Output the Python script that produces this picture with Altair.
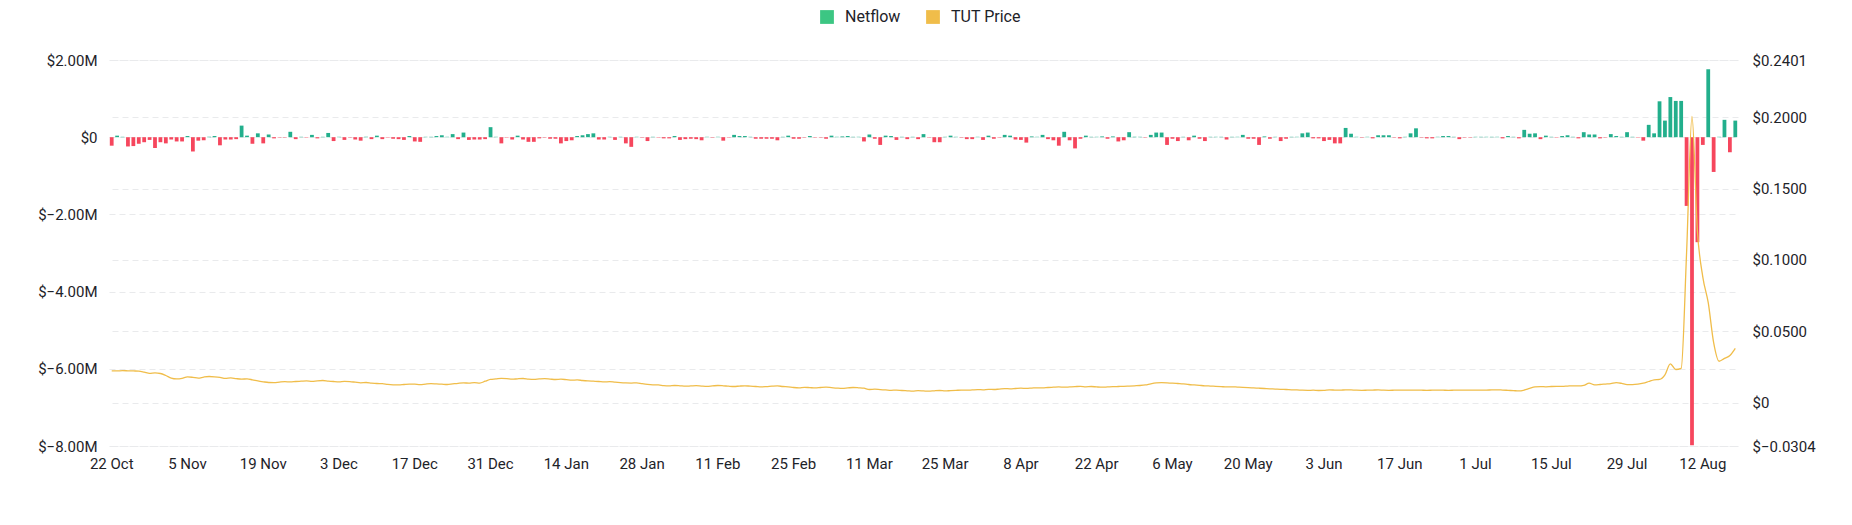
import altair as alt
import pandas as pd

START = "2024-10-22"
N_DAYS = 301

netflow_m = [
    -0.22, 0.04, 0.01, -0.24, -0.23, -0.17, -0.13, -0.07, -0.28, -0.13,
    -0.16, -0.06, -0.11, -0.11, 0.03, -0.37, -0.09, -0.08, 0.01, 0.03,
    -0.21, -0.06, -0.06, -0.05, 0.30, 0.04, -0.17, 0.10, -0.16, 0.07,
    -0.03, -0.01, -0.01, 0.14, -0.05, 0.01, -0.01, 0.06, -0.03, 0.01,
    0.11, -0.10, 0.01, -0.07, -0.01, -0.06, -0.09, 0.01, -0.05, 0.04,
    -0.05, -0.01, -0.04, -0.05, -0.07, 0.03, -0.11, -0.12, 0.01, 0.01,
    0.03, 0.05, 0.01, 0.08, -0.05, 0.12, -0.07, -0.06, -0.06, -0.05,
    0.26, 0.01, -0.16, -0.01, -0.06, 0.04, -0.06, -0.12, -0.12, -0.03,
    -0.01, -0.04, -0.04, -0.16, -0.10, -0.08, 0.03, 0.05, 0.08, 0.10,
    -0.06, -0.06, 0.01, -0.07, 0.01, -0.16, -0.25, 0.01, -0.01, -0.10,
    0.01, -0.01, -0.03, -0.03, 0.03, -0.07, -0.05, -0.04, -0.05, -0.08,
    0.01, -0.01, 0.01, -0.09, -0.01, 0.06, 0.03, 0.03, 0.01, -0.04,
    -0.04, -0.04, -0.04, -0.08, 0.01, 0.04, -0.04, -0.04, -0.01, 0.03,
    -0.01, -0.01, -0.04, 0.04, 0.01, 0.02, 0.03, 0.01, 0.01, -0.11,
    0.07, -0.04, -0.20, 0.04, 0.03, -0.07, 0.01, -0.05, 0.01, -0.05,
    0.08, -0.01, -0.13, -0.13, 0.01, 0.04, 0.01, -0.01, -0.05, -0.05,
    0.01, -0.07, 0.04, -0.04, -0.01, 0.06, 0.04, -0.06, -0.07, -0.14,
    0.02, 0.01, 0.06, -0.05, -0.08, -0.22, 0.14, -0.08, -0.29, -0.04,
    0.04, 0.01, 0.01, 0.02, -0.04, 0.02, -0.11, -0.08, 0.13, 0.01,
    0.01, -0.01, 0.06, 0.12, 0.12, -0.20, -0.04, -0.10, 0.01, -0.08,
    0.04, -0.04, -0.10, 0.01, 0.01, 0.01, -0.06, 0.01, 0.01, 0.06,
    -0.04, -0.04, -0.20, 0.02, -0.04, 0.01, -0.10, -0.04, 0.01, 0.01,
    0.10, 0.12, -0.03, -0.03, -0.10, -0.07, -0.16, -0.16, 0.24, 0.09,
    0.01, -0.01, 0.01, -0.03, 0.05, 0.05, 0.05, -0.01, -0.03, 0.01,
    0.10, 0.23, -0.01, -0.03, -0.03, 0.01, 0.03, 0.03, 0.01, -0.05,
    -0.01, -0.01, 0.01, 0.01, 0.01, 0.01, 0.01, -0.03, 0.03, 0.01,
    -0.03, 0.19, 0.09, 0.10, -0.05, 0.04, 0.01, -0.01, 0.03, 0.05,
    0.01, -0.03, 0.13, 0.07, 0.07, -0.03, -0.01, 0.08, 0.03, 0.01,
    0.13, 0.01, -0.01, -0.09, 0.32, 0.10, 0.93, 0.43, 1.04, 0.94,
    0.94, -1.78, -7.98, -2.72, -0.20, 1.76, -0.90, 0.01, 0.45, -0.39,
    0.43,
]

price = [
    0.0223, 0.0222, 0.0224, 0.0223, 0.0222, 0.0221, 0.0214, 0.0205, 0.0208, 0.0204,
    0.0190, 0.0172, 0.0166, 0.0170, 0.0180, 0.0177, 0.0172, 0.0179, 0.0183, 0.0181,
    0.0177, 0.0170, 0.0173, 0.0168, 0.0165, 0.0166, 0.0160, 0.0152, 0.0146, 0.0141,
    0.0140, 0.0144, 0.0147, 0.0145, 0.0148, 0.0150, 0.0152, 0.0149, 0.0153, 0.0155,
    0.0151, 0.0148, 0.0146, 0.0149, 0.0147, 0.0143, 0.0139, 0.0141, 0.0137, 0.0134,
    0.0133, 0.0128, 0.0125, 0.0124, 0.0127, 0.0130, 0.0129, 0.0126, 0.0130, 0.0133,
    0.0131, 0.0129, 0.0127, 0.0131, 0.0135, 0.0138, 0.0137, 0.0140, 0.0137, 0.0150,
    0.0163, 0.0166, 0.0170, 0.0168, 0.0164, 0.0167, 0.0169, 0.0165, 0.0163, 0.0166,
    0.0168, 0.0165, 0.0162, 0.0164, 0.0161, 0.0157, 0.0159, 0.0155, 0.0152, 0.0150,
    0.0148, 0.0145, 0.0147, 0.0143, 0.0140, 0.0138, 0.0137, 0.0139, 0.0133, 0.0128,
    0.0125, 0.0124, 0.0119, 0.0117, 0.0120, 0.0118, 0.0115, 0.0117, 0.0119, 0.0116,
    0.0114, 0.0117, 0.0120, 0.0118, 0.0115, 0.0113, 0.0116, 0.0118, 0.0115, 0.0113,
    0.0110, 0.0112, 0.0115, 0.0117, 0.0113, 0.0110, 0.0106, 0.0104, 0.0107, 0.0105,
    0.0103, 0.0106, 0.0108, 0.0105, 0.0102, 0.0100, 0.0103, 0.0106, 0.0104, 0.0101,
    0.0092, 0.0094, 0.0091, 0.0089, 0.0086, 0.0088, 0.0085, 0.0083, 0.0081, 0.0084,
    0.0082, 0.0080, 0.0083, 0.0085, 0.0082, 0.0084, 0.0086, 0.0088, 0.0087, 0.0089,
    0.0091, 0.0090, 0.0093, 0.0092, 0.0095, 0.0098, 0.0097, 0.0099, 0.0101, 0.0100,
    0.0102, 0.0104, 0.0103, 0.0106, 0.0108, 0.0110, 0.0108, 0.0110, 0.0112, 0.0114,
    0.0111, 0.0113, 0.0110, 0.0108, 0.0110, 0.0112, 0.0113, 0.0114, 0.0116, 0.0118,
    0.0120, 0.0124, 0.0132, 0.0138, 0.0140, 0.0139, 0.0137, 0.0134, 0.0131, 0.0127,
    0.0124, 0.0121, 0.0118, 0.0116, 0.0114, 0.0112, 0.0110, 0.0111, 0.0109, 0.0107,
    0.0105, 0.0103, 0.0101, 0.0099, 0.0097, 0.0095, 0.0093, 0.0092, 0.0090, 0.0089,
    0.0087, 0.0086, 0.0087, 0.0085, 0.0086, 0.0089, 0.0088, 0.0087, 0.0090, 0.0089,
    0.0087, 0.0086, 0.0087, 0.0088, 0.0089, 0.0087, 0.0086, 0.0087, 0.0088, 0.0087,
    0.0087, 0.0088, 0.0087, 0.0086, 0.0087, 0.0088, 0.0087, 0.0086, 0.0087, 0.0088,
    0.0087, 0.0087, 0.0088, 0.0087, 0.0088, 0.0089, 0.0090, 0.0088, 0.0086, 0.0084,
    0.0082, 0.0088, 0.0100, 0.0110, 0.0112, 0.0111, 0.0113, 0.0114, 0.0114, 0.0116,
    0.0118, 0.0117, 0.0121, 0.0136, 0.0125, 0.0127, 0.0130, 0.0133, 0.0140, 0.0135,
    0.0126, 0.0126, 0.0129, 0.0136, 0.0148, 0.0160, 0.0163, 0.0195, 0.0272, 0.0232,
    0.0240, 0.1050, 0.2005, 0.1200, 0.0880, 0.0700, 0.0420, 0.0290, 0.0310, 0.0330,
    0.0380,
]

tick_labels = ["22 Oct", "5 Nov", "19 Nov", "3 Dec", "17 Dec", "31 Dec", "14 Jan",
               "28 Jan", "11 Feb", "25 Feb", "11 Mar", "25 Mar", "8 Apr", "22 Apr",
               "6 May", "20 May", "3 Jun", "17 Jun", "1 Jul", "15 Jul", "29 Jul", "12 Aug"]
left_ticks = [2.0, 0.0, -2.0, -4.0, -6.0, -8.0]
right_ticks = [0.2401, 0.2, 0.15, 0.1, 0.05, 0.0, -0.0304]
series_names = ["Netflow", "TUT Price"]

GREEN = "#22AF8C"
RED = "#F6465D"
LEGEND_GREEN = "#3CC683"
YELLOW = "#F0BD4A"
FONT = "Roboto"
TEXT = "#1E2329"
GRID = "#E9EAEC"

NO_VIEW = alt.ViewBackground(stroke="transparent", strokeWidth=0)

dates = pd.date_range(START, periods=N_DAYS, freq="D")
days = [f"{d.day} {d.strftime('%b')}" for d in dates]
df = pd.DataFrame({"day": days, "netflow": netflow_m, "price": price})
legend_df = pd.DataFrame({"day": [days[0], days[0]], "price": [0.01, 0.01], "series": series_names})

x_scale = alt.Scale(paddingInner=0.3, paddingOuter=0.15)
x_axis = alt.Axis(values=tick_labels, labelAngle=0, ticks=False, domain=False,
                  grid=False, labelPadding=10, labelFontSize=15, labelColor=TEXT,
                  labelFont=FONT)

bars = alt.Chart(df).mark_bar().encode(
    x=alt.X("day:N", sort=None, title=None, scale=x_scale, axis=x_axis),
    y=alt.Y("netflow:Q", title=None,
            scale=alt.Scale(domain=[-8.0, 2.0], nice=False, zero=False),
            axis=alt.Axis(orient="left", values=left_ticks, ticks=False, domain=False,
                          grid=True, gridDash=[6, 4], gridColor=GRID,
                          labelPadding=12, labelFontSize=15, labelColor=TEXT, labelFont=FONT,
                          labelExpr="datum.value == 0 ? '$0' : '$' + format(datum.value, '.2f') + 'M'")),
    color=alt.condition("datum.netflow >= 0", alt.value(GREEN), alt.value(RED)),
)

price_scale = alt.Scale(domain=[-0.0304, 0.2401], nice=False, zero=False)
price_axis = alt.Axis(orient="right", values=right_ticks, ticks=False, domain=False,
                      grid=True, gridDash=[6, 4], gridColor=GRID,
                      labelPadding=14, labelFontSize=15, labelColor=TEXT, labelFont=FONT,
                      labelExpr="datum.value == 0 ? '$0' : '$' + format(datum.value, '.4f')")

color_scale = alt.Scale(domain=series_names, range=[LEGEND_GREEN, YELLOW])

line = alt.Chart(df).mark_line(color=YELLOW, strokeWidth=1.3, interpolate="monotone").encode(
    x=alt.X("day:N", sort=None, title=None, bandPosition=0.5, scale=x_scale, axis=x_axis),
    y=alt.Y("price:Q", title=None, scale=price_scale, axis=price_axis),
)

legend_layer = alt.Chart(legend_df).mark_square(opacity=0).encode(
    x=alt.X("day:N", sort=None, title=None, bandPosition=0.5, scale=x_scale, axis=x_axis),
    y=alt.Y("price:Q", title=None, scale=price_scale, axis=price_axis),
    color=alt.Color("series:N", scale=color_scale,
                    legend=alt.Legend(title=None, orient="none", direction="horizontal",
                                      legendX=710, legendY=-51, symbolType="square",
                                      symbolSize=190, symbolOpacity=1, symbolStrokeWidth=0,
                                      labelFontSize=16, labelFont=FONT, labelColor=TEXT,
                                      columnPadding=24, labelOffset=10)),
)

right_layer = alt.layer(line, legend_layer)

chart = alt.layer(bars, right_layer).resolve_scale(y="independent").properties(
    width=1629, height=386,
    autosize=alt.AutoSizeParams(type="none"),
    padding={"left": 101, "top": 52, "right": 106, "bottom": 71},
    background="white",
    view=NO_VIEW,
).configure_view(
    strokeWidth=0, stroke="transparent", strokeOpacity=0
).configure_axis(
    domain=False, ticks=False, domainOpacity=0
).configure_axisX(grid=False).configure_axisBand(grid=False)

chart.save("out.html", embed_options={"renderer": "svg", "actions": False})
